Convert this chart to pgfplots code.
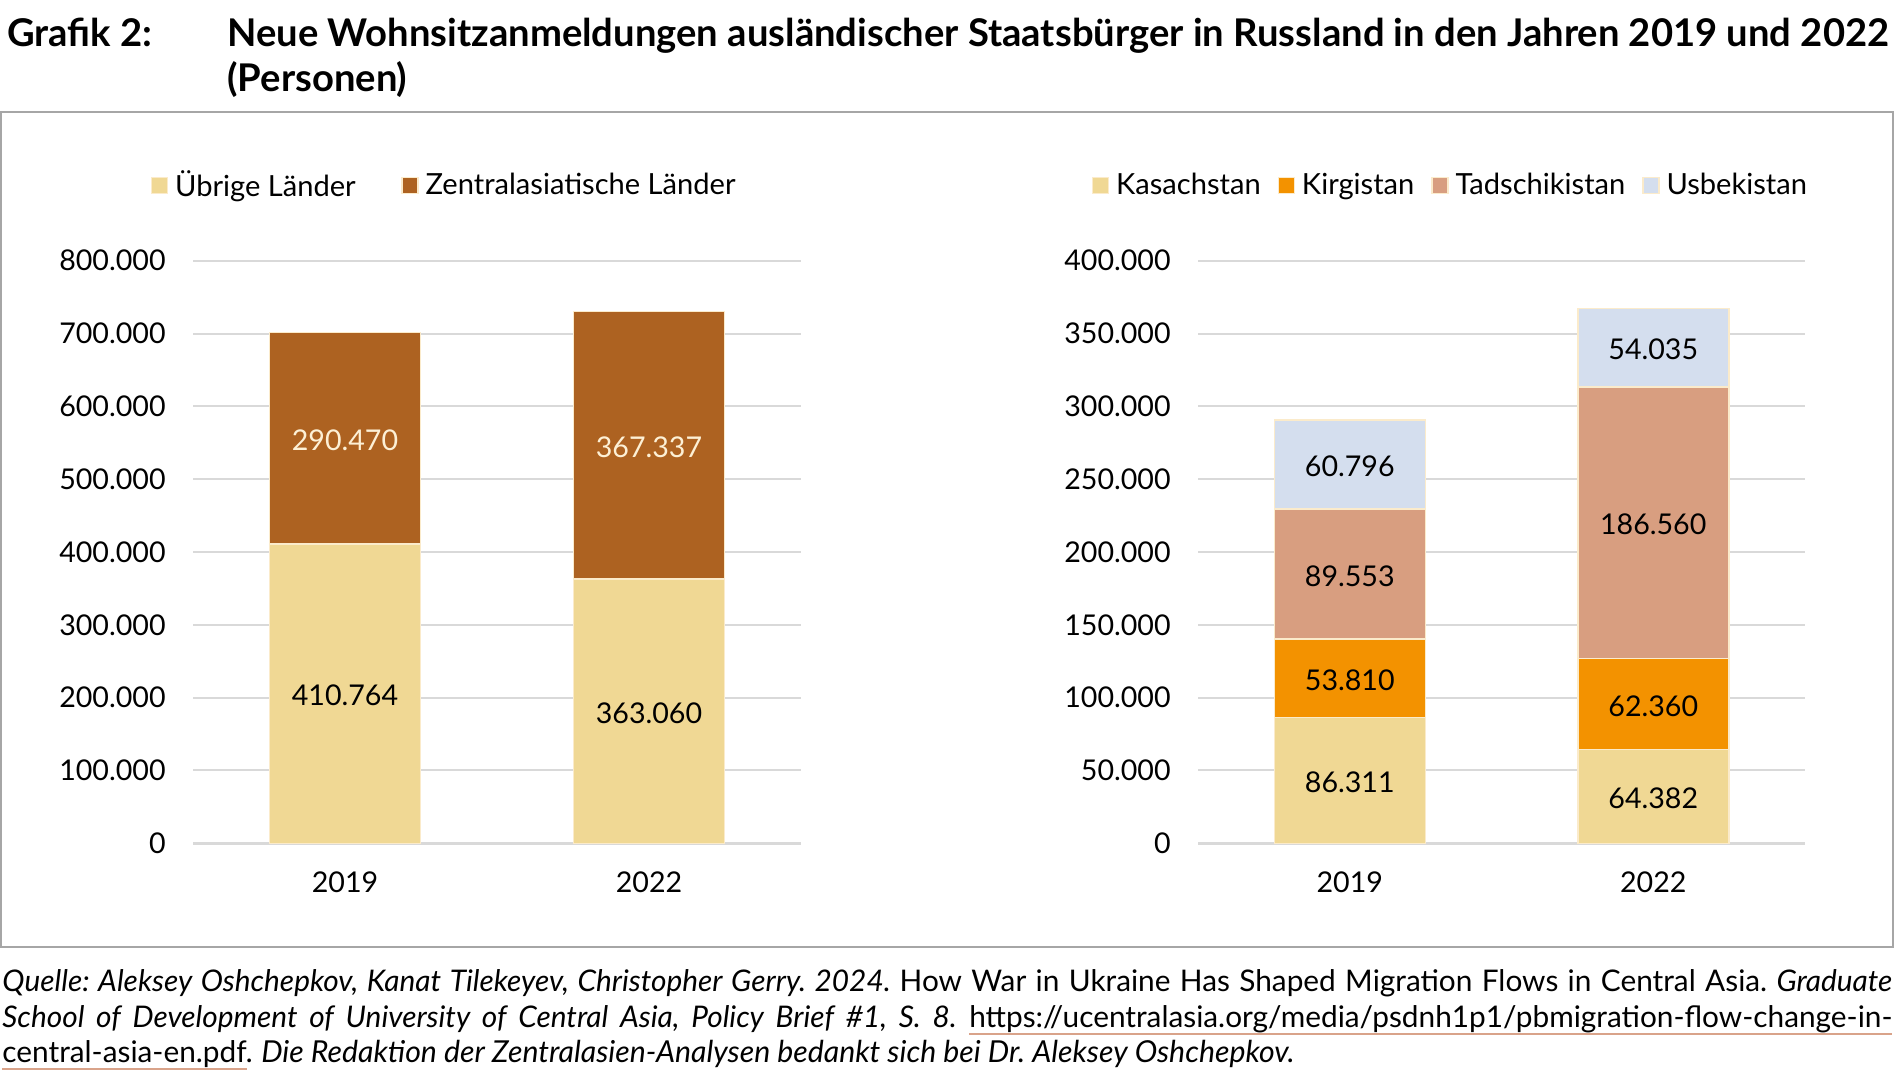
\documentclass[border=0pt]{standalone}
\usepackage{fontspec}
\setmainfont{Lato}
\usepackage{pgfplots}
\usepackage{pgfplotstable}
\pgfplotsset{compat=1.18}

\definecolor{cTan}{HTML}{F0D894}
\definecolor{cBrown}{HTML}{AD6221}
\definecolor{cOrange}{HTML}{F39200}
\definecolor{cSalmon}{HTML}{D89E80}
\definecolor{cBlue}{HTML}{D4DEEE}
\definecolor{cEdge}{HTML}{FBEBCB}
\definecolor{cGrid}{HTML}{D9D9D9}
\definecolor{cFrame}{HTML}{A6A6A6}
\definecolor{cLabLight}{HTML}{FDF0D5}
\definecolor{cLink}{HTML}{D9A38A}

\newcommand\tickfont{\fontsize{14.3bp}{17bp}\selectfont}
\newcommand\legfont{\fontsize{14.55bp}{17bp}\selectfont}
\newcommand\titlefont{\fontsize{19.1bp}{22.5bp}\selectfont\bfseries}
\newcommand\footfont{\fontsize{14.9bp}{17.5bp}\selectfont\frenchspacing}
\newcommand\ulink[1]{\setbox0=\hbox{#1}\rlap{\color{cLink}\rule[-4bp]{\wd0}{0.9bp}}\box0\relax}

% values in thousands of persons
\pgfplotstableread{
x other ca
0 410.764 290.470
1 363.060 367.337
}\dataL
\pgfplotstableread{
x kaz kyr taj uzb
0 86.311 53.810 89.553 60.796
1 64.382 62.360 186.560 54.035
}\dataR

\pgfplotsset{
  geom/.style={
    scale only axis, height=291.3bp,
    xmin=-0.5, xmax=1.5, ymin=0, enlargelimits=false, clip=false,
  },
  common/.style={
    geom, ybar stacked,
    bar width=75.5bp,
    xtick={0,1}, xticklabels={2019,2022},
    axis line style={draw=none},
    major tick length=0pt,
    tick style={draw=none},
    ymajorgrids, grid style={cGrid, line width=1bp},
    extra y ticks={0}, extra y tick labels={},
    extra y tick style={grid style={cGrid, line width=1.6bp}},
    ticklabel style={font=\tickfont},
    yticklabel style={anchor=east, inner sep=0pt, xshift=-13.5bp},
    xticklabel style={anchor=north, inner sep=0pt, yshift=-14bp},
    legend style={draw=none, fill=none, legend columns=-1, inner sep=0pt, outer sep=0pt,
      font=\legfont, nodes={inner sep=0pt},
      /tikz/every odd column/.append style={column sep=3.5bp}},
  },
  labels/.style={geom, hide axis},
  lab/.style={draw=none, mark=none, nodes near coords, point meta=explicit symbolic,
    every node near coord/.append style={anchor=center, font=\tickfont, inner sep=0pt, text=#1, yshift=-0.9bp}},
  lab/.default=black,
  seg/.style={fill=#1, draw=cEdge, line width=0.75bp},
  sqlegend/.style={legend image code/.code={\path[##1, line width=0.6bp] (0bp,-4bp) rectangle (8bp,4bp);}},
}

\begin{document}
\begin{tikzpicture}
\useasboundingbox (0,0) rectangle (947bp,540.5bp);

% title
\node[anchor=base west, inner sep=0pt, font=\titlefont] at (3.5bp,517bp) {Grafik 2:};
\node[anchor=base west, inner sep=0pt, font=\titlefont] at (113.5bp,517bp) {Neue Wohnsitzanmeldungen ausländischer Staatsbürger in Russland in den Jahren 2019 und 2022};
\node[anchor=base west, inner sep=0pt, font=\titlefont] at (113.5bp,494.8bp) {(Personen)};

% frame
\draw[cFrame, line width=1bp] (0.5bp,67.15bp) rectangle (946.3bp,484.5bp);

% left chart
\begin{axis}[common,
  at={(96.5bp,118.85bp)}, anchor=south west,
  width=304bp, ymax=800,
  ytick={0,100,...,800},
  yticklabels={0,100.000,200.000,300.000,400.000,500.000,600.000,700.000,800.000},
  legend style={at={(axis description cs:0,1)}, anchor=west, xshift=-21bp, yshift=37.7bp,
    /tikz/every even column/.append style={column sep=22.8bp}},
]
\addplot[seg=cTan, sqlegend] table[x=x,y=other]{\dataL};
\addplot[seg=cBrown, sqlegend] table[x=x,y=ca]{\dataL};
\legend{Übrige Länder, Zentralasiatische Länder}
\end{axis}
\begin{axis}[labels, at={(96.5bp,118.85bp)}, anchor=south west, width=304bp, ymax=800]
\addplot[lab] table[x=x, y expr=\thisrow{other}/2, meta=other]{\dataL};
\addplot[lab=cLabLight] table[x=x, y expr=\thisrow{other}+\thisrow{ca}/2, meta=ca]{\dataL};
\end{axis}

% right chart
\begin{axis}[common,
  at={(599bp,118.85bp)}, anchor=south west,
  width=303.5bp, ymax=400,
  ytick={0,50,...,400},
  yticklabels={0,50.000,100.000,150.000,200.000,250.000,300.000,350.000,400.000},
  legend style={at={(axis description cs:0,1)}, anchor=west, xshift=-53bp, yshift=37.7bp,
    /tikz/every even column/.append style={column sep=8.5bp}},
]
\addplot[seg=cTan, sqlegend] table[x=x,y=kaz]{\dataR};
\addplot[seg=cOrange, sqlegend] table[x=x,y=kyr]{\dataR};
\addplot[seg=cSalmon, sqlegend] table[x=x,y=taj]{\dataR};
\addplot[seg=cBlue, sqlegend] table[x=x,y=uzb]{\dataR};
\legend{Kasachstan, Kirgistan, Tadschikistan, Usbekistan}
\end{axis}
\begin{axis}[labels, at={(599bp,118.85bp)}, anchor=south west, width=303.5bp, ymax=400]
\addplot[lab] table[x=x, y expr=\thisrow{kaz}/2, meta=kaz]{\dataR};
\addplot[lab] table[x=x, y expr=\thisrow{kaz}+\thisrow{kyr}/2, meta=kyr]{\dataR};
\addplot[lab] table[x=x, y expr=\thisrow{kaz}+\thisrow{kyr}+\thisrow{taj}/2, meta=taj]{\dataR};
\addplot[lab] table[x=x, y expr=\thisrow{kaz}+\thisrow{kyr}+\thisrow{taj}+\thisrow{uzb}/2, meta=uzb]{\dataR};
\end{axis}

% footer
\node[anchor=base west, inner sep=0pt, font=\footfont] at (1bp,44.5bp) {\makebox[945bp][s]{\textit{Quelle: Aleksey Oshchepkov, Kanat Tilekeyev, Christopher Gerry. 2024.} How War in Ukraine Has Shaped Migration Flows in Central Asia. \textit{Graduate}}};
\node[anchor=base west, inner sep=0pt, font=\footfont] at (1bp,27bp) {\makebox[945bp][s]{\textit{School of Development of University of Central Asia, Policy Brief \#1, S. 8.} \ulink{https://ucentralasia.org/media/psdnh1p1/pbmigration-flow-change-in-}}};
\node[anchor=base west, inner sep=0pt, font=\footfont] at (1bp,9.5bp) {\ulink{central-asia-en.pdf}\textit{.} {\fontsize{15.12bp}{17.5bp}\selectfont\textit{Die Redaktion der Zentralasien-Analysen bedankt sich bei Dr. Aleksey Oshchepkov.}}};
\end{tikzpicture}
\end{document}
